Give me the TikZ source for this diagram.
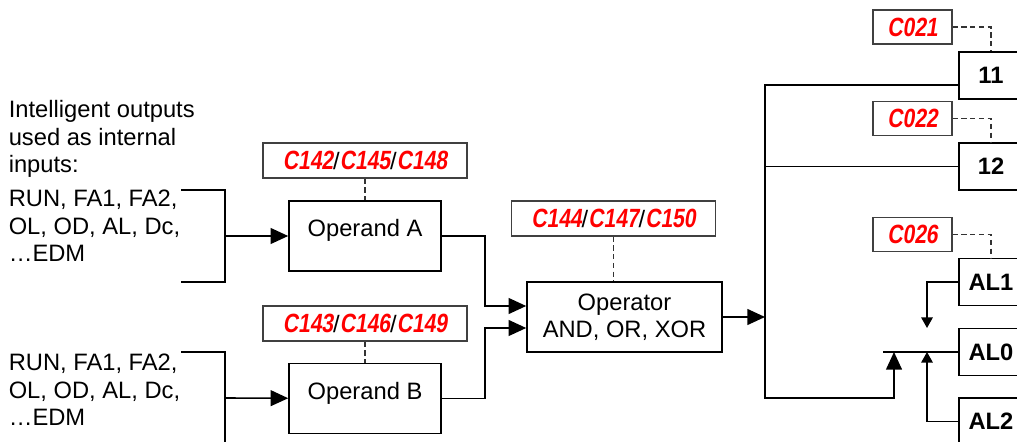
\documentclass[tikz,border=0pt]{standalone}
\usepackage{fontspec}
\setmainfont{Liberation Sans}
\newfontfamily\segfont[FakeSlant=0.15,FakeStretch=0.8]{Liberation Sans}
\usetikzlibrary{arrows.meta}
\newcommand{\cd}[1]{\textcolor{red}{\segfont\bfseries\fontsize{15}{15}\selectfont #1}}
\begin{document}
\begin{tikzpicture}[x=0.02cm,y=-0.02cm,line width=0.9pt,
  font=\fontsize{13.5}{15.6}\selectfont,
  box/.style={draw,inner sep=0pt,minimum width=3.04cm,minimum height=1.4cm},
  code/.style={draw=black!75,line width=0.6pt,inner sep=0pt,minimum width=4.08cm,minimum height=0.7cm},
  pin/.style={draw,inner sep=0pt,minimum width=1.28cm,minimum height=0.94cm,font=\fontsize{13.5}{15.6}\selectfont\bfseries},
  arr/.style={-{Triangle[length=10pt,width=9pt]}},
  sarr/.style={-{Triangle[length=6pt,width=6.5pt]}},
  dsh/.style={draw=black!80,line width=0.6pt,dash pattern=on 3pt off 2pt}]
\clip (0,0) rectangle (1017,442);
% left side texts
\node[anchor=west,align=left,inner sep=0pt] (note) at (8,139) {Intelligent outputs\\used as internal\\inputs:};
\node[anchor=west,align=left,inner sep=0pt] (inA) at (8,226) {RUN, FA1, FA2,\\OL, OD, AL, Dc,\\…EDM};
\node[anchor=west,align=left,inner sep=0pt] (inB) at (8,390) {RUN, FA1, FA2,\\OL, OD, AL, Dc,\\…EDM};
% operands and operator
\node[box,text height=10pt,text depth=9pt] (opA) at (365,236) {Operand A};
\node[box,text height=10pt,text depth=9pt] (opB) at (365,398.5) {Operand B};
\node[box,align=center,minimum width=3.9cm] (oper) at (624.5,317) {Operator\\AND, OR, XOR};
\node[code] (cA) at (365,160.5) {\cd{C142}/\cd{C145}/\cd{C148}};
\node[code] (cB) at (365,323.5) {\cd{C143}/\cd{C146}/\cd{C149}};
\node[code] (cO) at (613.5,218.5) {\cd{C144}/\cd{C147}/\cd{C150}};
% output terminals
\node[pin] (b11) at (991,75.5) {11};
\node[pin] (b12) at (991,166.5) {12};
\node[pin] (al1) at (991,282) {AL1};
\node[pin] (al0) at (991,352) {AL0};
\node[pin] (al2) at (991,421.5) {AL2};
\node[code,minimum width=1.58cm,minimum height=0.68cm] (c21) at (912.5,27) {\cd{C021}};
\node[code,minimum width=1.58cm,minimum height=0.68cm] (c22) at (912.5,118.5) {\cd{C022}};
\node[code,minimum width=1.58cm,minimum height=0.68cm] (c26) at (912.5,234.5) {\cd{C026}};
\coordinate (ja) at (225,236);
\coordinate (jb) at (225,398);
\coordinate (bus) at (765,317);
\coordinate (busbot) at (765,398);
\coordinate (sel) at (883,352);
\coordinate (selA) at (894,352);
\coordinate (al1t) at (927,328);
\coordinate (al2t) at (927,352);
% connections
\draw (181,190) -| (ja) |- (181,282);
\draw (181,352) -| (jb) |- (181,444);
\draw[arr] (ja) -- (opA);
\draw[arr] (jb) -- (opB);
\draw[arr] (opA.east) -- ++(43,0) |- ([yshift=0.22cm]oper.west);
\draw[arr] (opB.east) -- ++(43,0) |- ([yshift=-0.22cm]oper.west);
\draw[arr] (oper.east) -- (bus);
\draw[arr] ([yshift=-0.19cm]b11.west) -| (busbot) -| (selA);
\draw (b12.west) -- (b12.west -| bus);
\draw (sel) -- (al0.west);
\draw[sarr] (al1.west) -| (al1t);
\draw[sarr] (al2.west) -| (al2t);
\draw[dsh] (cA) -- (opA);
\draw[dsh] (cB) -- (opB);
\draw[dsh] (cO.south) -- (cO.south |- oper.north);
\draw[dsh] (c21.east) -| (b11.north);
\draw[dsh] (c22.east) -| (b12.north);
\draw[dsh] (c26.east) -| (al1.north);
\end{tikzpicture}
\end{document}
